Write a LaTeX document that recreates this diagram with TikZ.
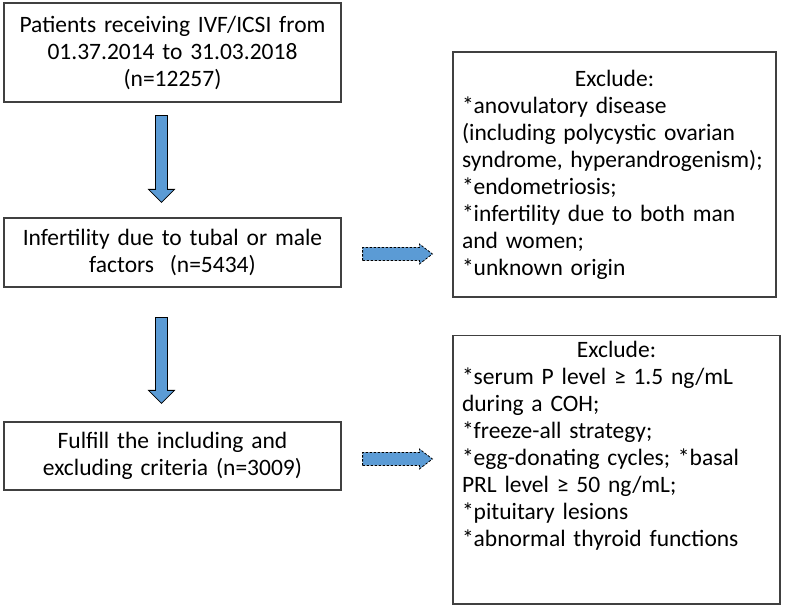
\documentclass[tikz,border=0pt]{standalone}
\usepackage{amsmath}
\usepackage{amssymb}
\usepackage[dvipsnames]{xcolor}
\usepackage{fontspec}
\setmainfont{Carlito}
\usetikzlibrary{calc}

\definecolor{arrowblue}{HTML}{5B9BD5}

\begin{document}
\begin{tikzpicture}[x=1pt, y=1pt]
    \useasboundingbox (0,0) rectangle (785,613);
    \def\hw{6pt}   % half width of the arrow shaft
    \def\hh{13pt}  % half width of the arrow head
    \def\hl{13pt}  % length of the arrow head

    % --- DEFINE STYLES ---
    % Style for the boxes of the main flow
    \tikzstyle{stage_box} = [draw=black!75, line width=1.2pt, text width=325pt, align=center, inner sep=6pt, font=\fontsize{23.5}{27}\selectfont]
    % Style for the exclusion boxes
    \tikzstyle{exclude_box} = [stage_box, text width=305pt, inner xsep=9pt, align=left]
    % Style for the block arrows
    \tikzstyle{down_arrow} = [draw=black, fill=arrowblue, line width=0.8pt]
    \tikzstyle{side_arrow} = [down_arrow, dash pattern=on 2.5pt off 1.5pt]

    % --- BOXES ---
    \node[stage_box, minimum height=99pt] (s1) at (172.5,560.5) {Patients receiving IVF/ICSI from\\ 01.37.2014 to 31.03.2018\\ (n=12257)};
    \node[stage_box, minimum height=69pt] (s2) at (172.5,360.5) {Infertility due to tubal or male\\ factors~ (n=5434)};
    \node[stage_box, minimum height=68pt] (s3) at (172.5,157) {Fulfill the including and\\ excluding criteria (n=3009)};

    \node[exclude_box, minimum height=245pt] (x1) at (614.5,438.5) {\makebox[\linewidth]{Exclude:}\\
        *anovulatory disease\\
        (including polycystic ovarian\\
        syndrome, hyperandrogenism);\\
        *endometriosis;\\
        *infertility due to both man\\
        and women;\\
        *unknown origin};
    \node[exclude_box, text width=309pt, anchor=north, text depth=240pt] (x2) at (616.5,278) {\makebox[\linewidth]{Exclude:}\\
        *serum P level ≥ 1.5 ng/mL\\
        during a COH;\\
        *freeze-all strategy;\\
        *egg-donating cycles; *basal\\
        PRL level ≥ 50 ng/mL;\\
        *pituitary lesions\\
        *abnormal thyroid functions};

    % --- ARROWS ---
    \coordinate (d1a) at ([xshift=-11pt, yshift=-13pt]s1.south);
    \coordinate (d1b) at ([xshift=-11pt, yshift=15pt]s2.north);
    \coordinate (d2a) at ([xshift=-11pt, yshift=-30pt]s2.south);
    \coordinate (d2b) at ([xshift=-11pt, yshift=18pt]s3.north);

    \foreach \a/\b in {d1a/d1b, d2a/d2b} {
        \draw[down_arrow] let \p1=(\a), \p2=(\b) in
            (\x1-\hw,\y1) -- (\x1+\hw,\y1) -- (\x1+\hw,\y2+\hl) -- (\x1+\hh,\y2+\hl)
            -- (\x1,\y2) -- (\x1-\hh,\y2+\hl) -- (\x1-\hw,\y2+\hl) -- cycle;
    }

    \coordinate (r1a) at ([xshift=21pt, yshift=-1.5pt]s2.east);
    \coordinate (r1b) at ([xshift=-20pt]s2.east -| x1.west);
    \coordinate (r2a) at ([xshift=21pt, yshift=-3pt]s3.east);
    \coordinate (r2b) at ([xshift=-20pt]s3.east -| x1.west);

    \foreach \a/\b in {r1a/r1b, r2a/r2b} {
        \draw[side_arrow] let \p1=(\a), \p2=(\b) in
            (\x1,\y1-6.5pt) -- (\x2-\hl,\y1-6.5pt) -- (\x2-\hl,\y1-10pt) -- (\x2,\y1)
            -- (\x2-\hl,\y1+10pt) -- (\x2-\hl,\y1+6.5pt) -- (\x1,\y1+6.5pt) -- cycle;
    }
\end{tikzpicture}
\end{document}
